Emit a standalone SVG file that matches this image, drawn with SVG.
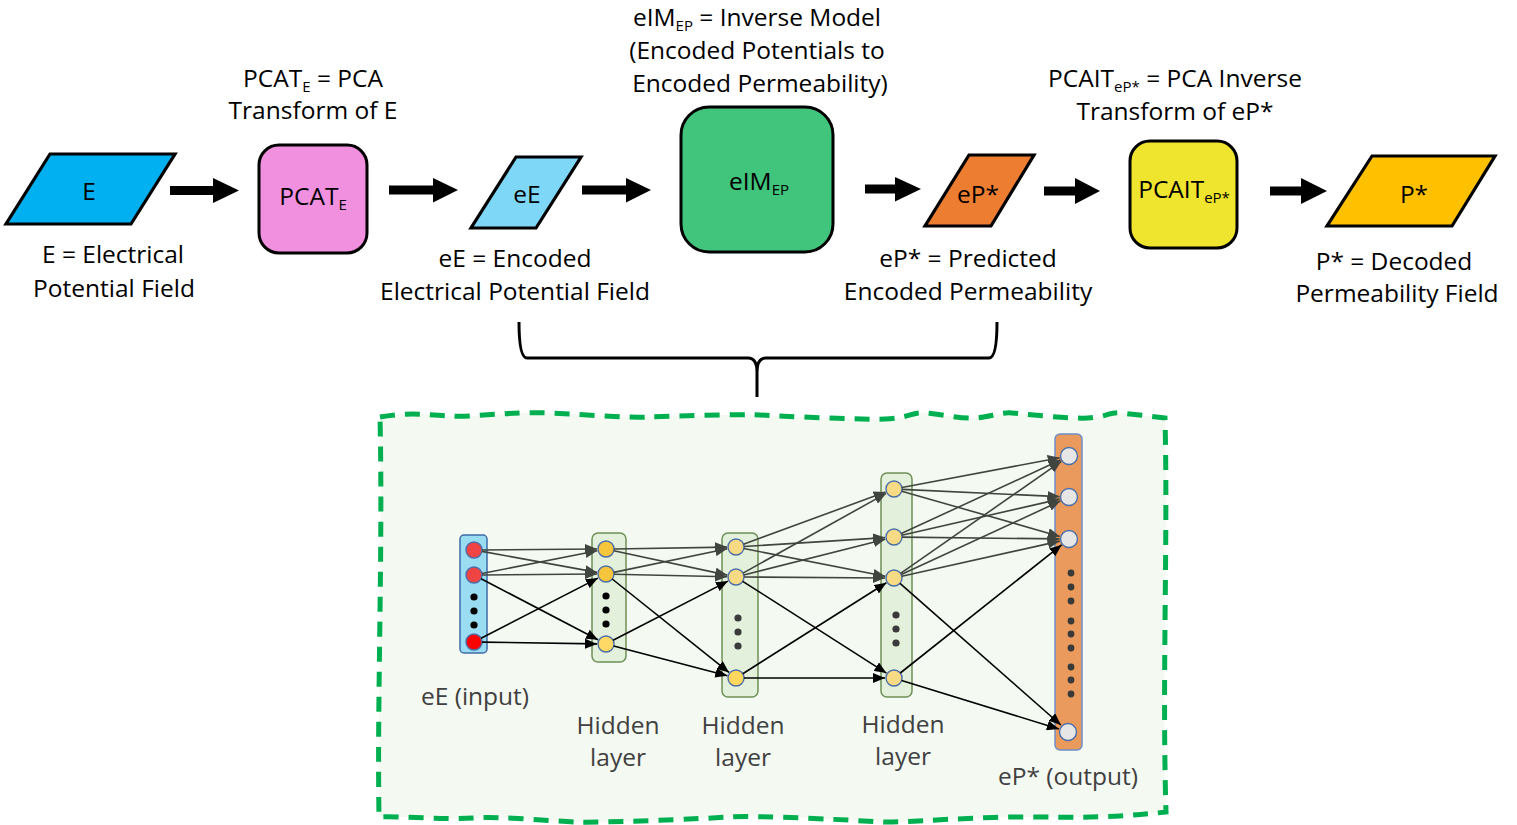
<svg xmlns="http://www.w3.org/2000/svg" width="1517" height="825" viewBox="0 0 1517 825">
<style>
text{font-family:"Open Sans","Noto Sans","Liberation Sans",sans-serif;}
.t{font-size:24.5px;fill:#000;text-anchor:middle;}
.s{font-size:15px;}
.n{font-size:24.5px;fill:#404040;text-anchor:middle;}
.shape{stroke:#000;stroke-width:3.2;stroke-linejoin:miter;}
.box{stroke:#000;stroke-width:3;}
.blk{fill:#000;}
.eg{stroke:#404540;stroke-width:1.6;fill:none;marker-end:url(#ag);}
.eb{stroke:#000;stroke-width:1.6;fill:none;marker-end:url(#ab);}
.hcol{fill:#E3F0DB;stroke:#6F8F58;stroke-width:1.5;}
.nd{stroke:#4C6FA8;stroke-width:1.4;}
.dk{fill:#3A3A3A;}
</style>
<defs>
<marker id="ag" markerUnits="userSpaceOnUse" markerWidth="12" markerHeight="10" refX="12" refY="5" orient="auto"><path d="M0,0 L12,5 L0,10 z" fill="#404540"/></marker>
<marker id="ab" markerUnits="userSpaceOnUse" markerWidth="12" markerHeight="10" refX="12" refY="5" orient="auto"><path d="M0,0 L12,5 L0,10 z" fill="#000"/></marker>
</defs>
<rect width="1517" height="825" fill="#fff"/>

<!-- Top pipeline nodes -->
<g id="node-E">
<polygon class="shape" points="50,154 175,154 131,224 6,224" fill="#00B0F0"/>
<text class="t" x="89" y="200">E</text>
<text class="t" x="113" y="263">E = Electrical</text>
<text class="t" x="114" y="297">Potential Field</text>
</g>
<g id="node-PCAT">
<rect class="box" x="259" y="145" width="108" height="108" rx="20" fill="#F190DF"/>
<text class="t" x="313" y="205">PCAT<tspan class="s" dy="5">E</tspan></text>
<text class="t" x="313" y="87">PCAT<tspan class="s" dy="5">E</tspan><tspan dy="-5"> = PCA</tspan></text>
<text class="t" x="313" y="119">Transform of E</text>
</g>
<g id="node-eE">
<polygon class="shape" points="516,157 581,157 536,228 471,228" fill="#7FD7F7"/>
<text class="t" x="527" y="203">eE</text>
<text class="t" x="515" y="267">eE = Encoded</text>
<text class="t" x="515" y="300">Electrical Potential Field</text>
</g>
<g id="node-eIM">
<rect class="box" x="681" y="107" width="152" height="145" rx="28" fill="#41C47B"/>
<text class="t" x="759" y="190">eIM<tspan class="s" dy="5">EP</tspan></text>
<text class="t" x="757" y="26">eIM<tspan class="s" dy="5">EP</tspan><tspan dy="-5"> = Inverse Model</tspan></text>
<text class="t" x="757" y="59">(Encoded Potentials to</text>
<text class="t" x="760" y="92">Encoded Permeability)</text>
</g>
<g id="node-eP">
<polygon class="shape" points="969,155 1034,155 991,226 925,226" fill="#ED7D31"/>
<text class="t" x="978" y="203">eP*</text>
<text class="t" x="968" y="267">eP* = Predicted</text>
<text class="t" x="968" y="300">Encoded Permeability</text>
</g>
<g id="node-PCAIT">
<rect class="box" x="1130" y="141" width="107" height="107" rx="20" fill="#F0E52E"/>
<text class="t" x="1184" y="198">PCAIT<tspan class="s" dy="5">eP*</tspan></text>
<text class="t" x="1175" y="87">PCAIT<tspan class="s" dy="5">eP*</tspan><tspan dy="-5"> = PCA Inverse</tspan></text>
<text class="t" x="1175" y="120">Transform of eP*</text>
</g>
<g id="node-P">
<polygon class="shape" points="1372,156 1495,156 1452,226 1327,226" fill="#FFC000"/>
<text class="t" x="1414" y="203">P*</text>
<text class="t" x="1394" y="270">P* = Decoded</text>
<text class="t" x="1397" y="302">Permeability Field</text>
</g>

<!-- Network panel -->
<g id="panel">
<path d="M380,417 C420,410 440,418 470,416 S520,412 550,413 S620,418 650,417 S740,414 760,415 S860,420 885,419 S910,412 925,413 S960,419 975,418 S1000,412 1012,413 S1070,419 1088,418 S1110,412 1120,413 S1150,416 1165,418 C1168,540 1162,680 1166,812 C1130,816 1100,818 1040,817 S900,823 883,822 S760,815 729,817 S600,823 575,822 S500,816 473,818 S400,816 379,817 C377,700 383,550 380,417 Z" fill="#F4F9F2" stroke="#00B050" stroke-width="5" stroke-dasharray="15 10"/>
</g>
<g id="brace">
<path d="M519,322 Q519,358 527,358 L748,358 Q757,358 757,372 L757,397 M757,372 Q757,358 766,358 L989,358 Q997,358 997,322" fill="none" stroke="#000" stroke-width="3"/>
</g>

<g id="node-input">
<rect x="460" y="535" width="27" height="118" rx="4" fill="#9ADCF2" stroke="#3E6CA8" stroke-width="1.5"/>
<circle class="nd" cx="474" cy="550" r="8" fill="#F04343"/>
<circle class="nd" cx="474" cy="575" r="8" fill="#F04343"/>
<circle class="nd" cx="474" cy="642" r="8" fill="#FF0000"/>
<circle class="blk" cx="474" cy="597" r="3.6"/>
<circle class="blk" cx="474" cy="611" r="3.6"/>
<circle class="blk" cx="474" cy="625" r="3.6"/>
<text class="n" x="475" y="705">eE (input)</text>
</g>
<g id="node-hidden1">
<rect class="hcol" x="592" y="533" width="34" height="129" rx="6"/>
<circle class="nd" cx="606" cy="549" r="8" fill="#F5C63C"/>
<circle class="nd" cx="606" cy="574" r="8" fill="#F5C63C"/>
<circle class="nd" cx="606" cy="644" r="8" fill="#FFD966"/>
<circle class="blk" cx="606" cy="596" r="3.6"/>
<circle class="blk" cx="606" cy="610" r="3.6"/>
<circle class="blk" cx="606" cy="624" r="3.6"/>
<text class="n" x="618" y="734">Hidden</text>
<text class="n" x="618" y="766">layer</text>
</g>
<g id="node-hidden2">
<rect class="hcol" x="722" y="533" width="36" height="164" rx="6"/>
<circle class="nd" cx="736" cy="547" r="8" fill="#F7DA84"/>
<circle class="nd" cx="736" cy="577" r="8" fill="#F7DA84"/>
<circle class="nd" cx="736" cy="678" r="8" fill="#FFD75E"/>
<circle class="dk" cx="738" cy="618" r="3.6"/>
<circle class="dk" cx="738" cy="632" r="3.6"/>
<circle class="dk" cx="738" cy="646" r="3.6"/>
<text class="n" x="743" y="734">Hidden</text>
<text class="n" x="743" y="766">layer</text>
</g>
<g id="node-hidden3">
<rect class="hcol" x="881" y="473" width="31" height="224" rx="6"/>
<circle class="nd" cx="894" cy="489" r="8" fill="#F7DA84"/>
<circle class="nd" cx="894" cy="537" r="8" fill="#F7DA84"/>
<circle class="nd" cx="894" cy="578" r="8" fill="#F7DA84"/>
<circle class="nd" cx="894" cy="678" r="8" fill="#F7DA84"/>
<circle class="dk" cx="896" cy="615" r="3.6"/>
<circle class="dk" cx="896" cy="629" r="3.6"/>
<circle class="dk" cx="896" cy="643" r="3.6"/>
<text class="n" x="903" y="733">Hidden</text>
<text class="n" x="903" y="765">layer</text>
</g>
<g id="node-output">
<rect x="1055" y="434" width="27" height="316" rx="5" fill="#EA9A5C" stroke="#6F8FC8" stroke-width="1.5"/>
<circle class="nd" cx="1069" cy="456" r="8.5" fill="#E6E6E6"/>
<circle class="nd" cx="1069" cy="497" r="8.5" fill="#E6E6E6"/>
<circle class="nd" cx="1069" cy="539" r="8.5" fill="#E6E6E6"/>
<circle class="nd" cx="1068" cy="732" r="8.5" fill="#E6E6E6"/>
<circle class="dk" cx="1071" cy="573" r="3.4"/>
<circle class="dk" cx="1071" cy="587" r="3.4"/>
<circle class="dk" cx="1071" cy="601" r="3.4"/>
<circle class="dk" cx="1071" cy="621" r="3.4"/>
<circle class="dk" cx="1071" cy="634" r="3.4"/>
<circle class="dk" cx="1071" cy="648" r="3.4"/>
<circle class="dk" cx="1071" cy="667" r="3.4"/>
<circle class="dk" cx="1071" cy="680" r="3.4"/>
<circle class="dk" cx="1071" cy="694" r="3.4"/>
<text class="n" x="1068" y="785">eP* (output)</text>
</g>

<!-- Connectors -->
<g id="connectors">
<polygon points="170,186 213,186 213,178 239,190.5 213,203 213,195 170,195" fill="#000"/>
<polygon points="389,185.5 433,185.5 433,178 458,190 433,202.5 433,194.5 389,194.5" fill="#000"/>
<polygon points="582,185.5 626,185.5 626,178 651,190 626,202.5 626,194.5 582,194.5" fill="#000"/>
<polygon points="865,184.5 895,184.5 895,177 921,189 895,201.5 895,193.5 865,193.5" fill="#000"/>
<polygon points="1044,186.5 1075,186.5 1075,178 1100,191 1075,204 1075,195.5 1044,195.5" fill="#000"/>
<polygon points="1270,186.5 1301,186.5 1301,178 1327,191 1301,204 1301,195.5 1270,195.5" fill="#000"/>

<line class="eg" x1="482" y1="550" x2="597" y2="549"/>
<line class="eg" x1="482" y1="551.4" x2="597.1" y2="572.4"/>
<line class="eg" x1="481.9" y1="573.5" x2="597.2" y2="550.7"/>
<line class="eg" x1="482" y1="575" x2="597" y2="574"/>
<line class="eb" x1="481.1" y1="578.7" x2="598" y2="639.8"/>
<line class="eb" x1="481.1" y1="638.3" x2="598" y2="578.1"/>
<line class="eb" x1="482" y1="642.1" x2="597" y2="643.9"/>

<line class="eg" x1="614" y1="549" x2="727" y2="547.1"/>
<line class="eg" x1="613.8" y1="550.7" x2="727.2" y2="575.1"/>
<line class="eg" x1="613.8" y1="572.4" x2="727.2" y2="548.8"/>
<line class="eg" x1="614" y1="574.2" x2="727" y2="576.8"/>
<line class="eb" x1="612.2" y1="579" x2="729" y2="672.4"/>
<line class="eb" x1="613.1" y1="640.3" x2="728" y2="581.1"/>
<line class="eb" x1="613.7" y1="646" x2="727.3" y2="675.7"/>

<line class="eg" x1="743.5" y1="544.2" x2="885.5" y2="492.1"/>
<line class="eg" x1="744" y1="546.5" x2="885" y2="537.6"/>
<line class="eg" x1="743.8" y1="548.5" x2="885.2" y2="576.3"/>
<line class="eg" x1="743" y1="573.1" x2="886.1" y2="493.4"/>
<line class="eg" x1="743.8" y1="575" x2="885.3" y2="539.2"/>
<line class="eg" x1="744" y1="577" x2="885" y2="578"/>
<line class="eb" x1="742.7" y1="581.3" x2="886.4" y2="673.1"/>
<line class="eb" x1="742.8" y1="673.7" x2="886.4" y2="582.8"/>
<line class="eb" x1="744" y1="678" x2="885" y2="678"/>

<line class="eg" x1="901.9" y1="487.5" x2="1059.7" y2="457.8"/>
<line class="eg" x1="902" y1="489.4" x2="1059.5" y2="496.6"/>
<line class="eg" x1="901.7" y1="491.2" x2="1059.9" y2="536.4"/>
<line class="eg" x1="901.3" y1="533.6" x2="1060.4" y2="460"/>
<line class="eg" x1="901.8" y1="535.2" x2="1059.7" y2="499.1"/>
<line class="eg" x1="902" y1="537.1" x2="1059.5" y2="538.9"/>
<line class="eg" x1="900.6" y1="573.4" x2="1061.2" y2="461.4"/>
<line class="eg" x1="901.3" y1="574.6" x2="1060.4" y2="501"/>
<line class="eg" x1="901.8" y1="576.3" x2="1059.7" y2="541.1"/>
<line class="eb" x1="900" y1="583.3" x2="1060.9" y2="725"/>
<line class="eb" x1="900.3" y1="673" x2="1061.6" y2="544.9"/>
<line class="eb" x1="901.6" y1="680.4" x2="1058.9" y2="729"/>
</g>
</svg>
